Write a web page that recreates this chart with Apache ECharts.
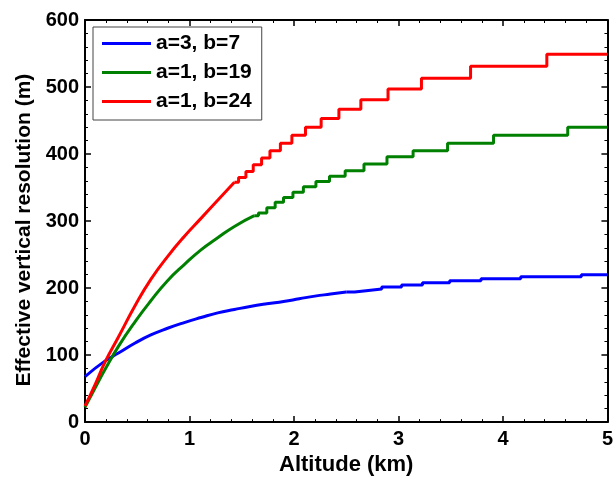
<!DOCTYPE html>
<html>
<head>
<meta charset="utf-8">
<script src="https://cdn.jsdelivr.net/npm/echarts@6/dist/echarts.min.js"></script>
<style>
html,body{margin:0;padding:0;background:#fff;}
#chart{width:616px;height:481px;}
</style>
</head>
<body>
<div id="chart"></div>
<script>
// ---- Data ----
const seriesNames = ['a=3, b=7', 'a=1, b=19', 'a=1, b=24'];

// a=3, b=7 (blue)
const blueSmoothAlt = [0, 0.19, 0.32, 0.48, 0.63, 0.79, 0.95, 1.11, 1.27, 1.43, 1.58, 1.74, 1.90, 2.05, 2.20, 2.35, 2.50];
const blueSmoothRes = [68, 91, 103, 118, 130, 140, 148.5, 156, 163, 168, 172.5, 176.5, 180, 184, 188, 191, 194];
const blueStepAlt = [2.58, 2.69, 2.84, 3.03, 3.23, 3.49, 3.79, 4.17, 4.75];
const blueStepRes = [196, 198.5, 201.5, 204.5, 208, 211, 214, 217, 220];

// a=1, b=19 (green)
const greenSmoothAlt = [0, 0.1, 0.19, 0.32, 0.48, 0.63, 0.79, 0.95, 1.11, 1.27, 1.43, 1.62];
const greenSmoothRes = [22, 52, 78, 113, 150, 181, 211, 235, 257, 275, 292, 308];
const greenStepAlt = [1.66, 1.74, 1.82, 1.90, 1.99, 2.09, 2.21, 2.34, 2.49, 2.67, 2.89, 3.14, 3.47, 3.91, 4.62];
const greenStepRes = [312, 320, 328, 335, 343, 351, 359, 367, 375, 385, 396, 405, 416, 428, 440];

// a=1, b=24 (red)
const redSmoothAlt = [0, 0.1, 0.19, 0.32, 0.48, 0.63, 0.79, 0.95, 1.11, 1.27, 1.43];
const redSmoothRes = [24, 57, 89, 127, 174, 213, 247, 277, 304, 331, 358];
const redStepAlt = [1.47, 1.54, 1.61, 1.69, 1.77, 1.87, 1.98, 2.11, 2.26, 2.43, 2.64, 2.90, 3.22, 3.69, 4.42];
const redStepRes = [365, 374, 384, 394, 405, 416, 428, 440, 453, 467, 481, 497, 513, 531, 549];

const xMax = 5;
const yTicks = [0, 100, 200, 300, 400, 500, 600];
const xTicks = [0, 1, 2, 3, 4, 5];

function smoothPts(sAlt, sRes) {
  return sAlt.map((a, i) => [a, sRes[i]]);
}
// Staircase corners, starting from the last point of the smooth part
function stairPts(sAlt, sRes, stAlt, stRes) {
  let prev = sRes[sRes.length - 1];
  const pts = [[sAlt[sAlt.length - 1], prev]];
  stAlt.forEach((a, i) => {
    pts.push([a, prev]);
    pts.push([a, stRes[i]]);
    prev = stRes[i];
  });
  pts.push([xMax, prev]);
  return pts;
}

const colors = ['#0000ff', '#008000', '#ff0000'];
const parts = [
  [blueSmoothAlt, blueSmoothRes, blueStepAlt, blueStepRes],
  [greenSmoothAlt, greenSmoothRes, greenStepAlt, greenStepRes],
  [redSmoothAlt, redSmoothRes, redStepAlt, redStepRes]
];

const FONT = '"Liberation Sans", Arial, sans-serif';

function xAx(pos, show) {
  return {
    type: 'value', position: pos, min: xTicks[0], max: xTicks[xTicks.length - 1], interval: 1,
    axisLine: {show: true, onZero: false, lineStyle: {color: '#000', width: 2}},
    axisTick: {show: true, inside: true, length: 6, lineStyle: {color: '#000', width: 1.5}},
    minorTick: {show: true, splitNumber: 5, length: 3, lineStyle: {color: '#000', width: 1}},
    splitLine: {show: false},
    axisLabel: {show: show, color: '#000', fontFamily: FONT, fontWeight: 'bold', fontSize: 20, margin: 7},
    name: show ? 'Altitude (km)' : '',
    nameLocation: 'middle', nameGap: 31,
    nameTextStyle: {color: '#000', fontFamily: FONT, fontWeight: 'bold', fontSize: 22}
  };
}
function yAx(pos, show) {
  return {
    type: 'value', position: pos, min: yTicks[0], max: yTicks[yTicks.length - 1], interval: 100,
    axisLine: {show: true, onZero: false, lineStyle: {color: '#000', width: 2}},
    axisTick: {show: true, inside: true, length: 6, lineStyle: {color: '#000', width: 1.5}},
    minorTick: {show: true, splitNumber: 5, length: 3, lineStyle: {color: '#000', width: 1}},
    splitLine: {show: false},
    axisLabel: {show: show, color: '#000', fontFamily: FONT, fontWeight: 'bold', fontSize: 20, margin: 6},
    name: show ? 'Effective vertical resolution (m)' : '',
    nameLocation: 'middle', nameGap: 50, nameRotate: 90,
    nameTextStyle: {color: '#000', fontFamily: FONT, fontWeight: 'bold', fontSize: 21, padding: [0, 18, 0, 0]}
  };
}

const series = [];
parts.forEach((p, i) => {
  series.push({
    name: seriesNames[i], type: 'line', xAxisIndex: 0, yAxisIndex: 0,
    data: smoothPts(p[0], p[1]), symbol: 'none', showSymbol: false,
    smooth: 0.5,
    lineStyle: {color: colors[i], width: 3}, itemStyle: {color: colors[i]}, z: 2 + i
  });
  series.push({
    name: seriesNames[i], type: 'line', xAxisIndex: 0, yAxisIndex: 0,
    data: stairPts(p[0], p[1], p[2], p[3]), symbol: 'none', showSymbol: false, smooth: false,
    lineStyle: {color: colors[i], width: 3}, itemStyle: {color: colors[i]}, z: 2 + i
  });
});

const chart = echarts.init(document.getElementById('chart'), null, {renderer: 'canvas'});
chart.setOption({
  animation: false,
  backgroundColor: '#fff',
  grid: {left: 85, right: 5, top: 20, bottom: 53, containLabel: false},
  xAxis: [xAx('bottom', true), xAx('top', false)],
  yAxis: [yAx('left', true), yAx('right', false)],
  legend: {
    show: true, left: 93, top: 27, orient: 'vertical',
    backgroundColor: '#fff', borderColor: '#444', borderWidth: 1,
    padding: [6, 10, 8, 9], itemGap: 8, itemWidth: 49, itemHeight: 3,
    icon: 'rect',
    textStyle: {color: '#000', fontFamily: FONT, fontWeight: 'bold', fontSize: 21, lineHeight: 20},
    data: seriesNames.map((n, i) => ({name: n, icon: 'rect', itemStyle: {color: colors[i]}}))
  },
  series: series
});
</script>
</body>
</html>
